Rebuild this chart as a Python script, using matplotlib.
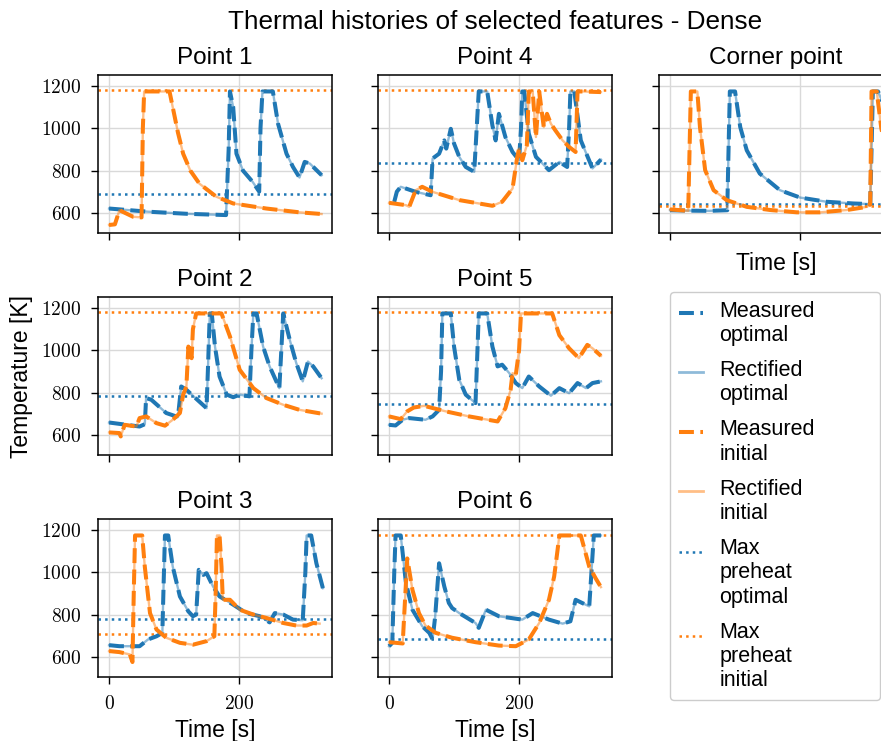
import numpy as np
import matplotlib
matplotlib.use('Agg')
import matplotlib.pyplot as plt
from matplotlib.lines import Line2D
from matplotlib.ticker import FuncFormatter

# temperature histories (time [s], temperature [K])
p1_opt_t = [0, 60, 120, 180, 184, 186, 191, 196, 206, 221, 231, 233, 236, 252, 260, 273, 283, 293, 301, 309, 327]
p1_opt_T = [620, 605, 595, 589, 900, 1175, 1100, 880, 800, 746, 700, 1000, 1175, 1175, 1022, 880, 817, 767, 841, 833, 778]
p1_init_t = [0, 9, 16, 37, 50, 52, 54, 93, 98, 106, 114, 125, 139, 165, 191, 242, 293, 327]
p1_init_T = [542, 545, 612, 581, 578, 1000, 1175, 1175, 1100, 980, 880, 800, 738, 676, 644, 620, 602, 594]

p2_opt_t = [0, 47, 55, 57, 65, 88, 106, 111, 119, 150, 152, 155, 158, 163, 170, 181, 191, 201, 216, 219, 222,
            227, 237, 247, 262, 265, 268, 278, 288, 298, 306, 314, 327]
p2_opt_T = [658, 639, 650, 774, 766, 703, 684, 829, 813, 726, 900, 1175, 1175, 1018, 876, 790, 778, 790, 782, 1000, 1175,
            1175, 1018, 924, 821, 1000, 1175, 1050, 940, 853, 947, 924, 868]
p2_init_t = [0, 16, 18, 24, 42, 47, 57, 73, 86, 98, 109, 114, 119, 122, 127, 129, 134, 173, 186, 201, 222, 242, 268, 293, 327]
p2_init_T = [611, 608, 592, 647, 639, 679, 687, 655, 643, 671, 703, 790, 829, 1018, 963, 1100, 1175, 1175, 1066, 908, 821, 774, 742, 718, 700]

p3_opt_t = [0, 16, 47, 60, 73, 82, 84, 86, 91, 98, 109, 122, 129, 134, 138, 145, 150, 160, 170, 191, 211, 232,
            247, 255, 268, 283, 298, 302, 304, 311, 319, 329]
p3_opt_T = [655, 650, 650, 682, 697, 713, 950, 1175, 1175, 1027, 886, 815, 792, 800, 1012, 988, 996, 933, 886, 847, 807, 792,
            763, 807, 800, 776, 773, 1000, 1175, 1175, 1043, 925]
p3_init_t = [0, 16, 32, 36, 38, 40, 51, 55, 63, 73, 88, 109, 129, 150, 162, 164, 166, 170, 173, 175, 186, 201,
             222, 242, 268, 288, 304, 314, 324]
p3_init_T = [627, 622, 611, 575, 900, 1175, 1175, 1027, 807, 729, 690, 666, 657, 674, 697, 900, 1175, 1175, 1027, 870, 870, 823,
             800, 784, 760, 748, 748, 760, 757]

p4_opt_t = [8, 12, 18, 41, 64, 67, 77, 85, 88, 95, 100, 108, 118, 131, 133, 138, 151, 159, 164, 169, 179, 190, 200,
            203, 205, 208, 215, 226, 246, 262, 274, 277, 279, 285, 295, 313, 326]
p4_opt_T = [652, 700, 723, 699, 683, 857, 880, 943, 904, 998, 928, 865, 817, 794, 900, 1175, 1175, 1014, 943, 1069, 959, 888, 849,
            1000, 1175, 1175, 975, 865, 802, 841, 817, 1000, 1175, 1175, 943, 810, 852]
p4_init_t = [0, 26, 31, 41, 51, 67, 108, 159, 174, 190, 197, 200, 205, 212, 215, 221, 226, 231, 238, 243, 249, 256,
             267, 277, 287, 290, 297, 326]
p4_init_T = [647, 636, 628, 707, 723, 699, 660, 633, 652, 715, 860, 904, 849, 920, 1175, 1175, 959, 1175, 1006, 1069, 1022, 990,
             943, 912, 888, 1175, 1175, 1172]

p5_opt_t = [0, 10, 21, 31, 56, 67, 77, 80, 82, 95, 100, 108, 118, 133, 136, 138, 151, 159, 167, 174, 185, 195, 205,
            215, 231, 249, 262, 277, 290, 303, 313, 326]
p5_opt_T = [647, 644, 671, 679, 671, 687, 718, 900, 1175, 1175, 1018, 861, 790, 750, 1000, 1175, 1175, 1018, 924, 932, 892, 845, 821,
            876, 829, 785, 821, 797, 845, 821, 845, 853]
p5_init_t = [0, 18, 28, 38, 54, 87, 123, 167, 179, 187, 190, 195, 200, 203, 251, 262, 277, 292, 305, 313, 326]
p5_init_T = [687, 674, 711, 729, 737, 711, 687, 663, 726, 813, 892, 884, 1000, 1175, 1175, 1072, 1010, 963, 1026, 1010, 974]

p6_opt_t = [0, 5, 8, 10, 18, 26, 36, 51, 62, 67, 71, 77, 85, 92, 97, 108, 133, 138, 149, 169, 205, 221, 246, 267,
            279, 287, 297, 308, 315, 326]
p6_opt_T = [650, 666, 1000, 1175, 1175, 949, 823, 745, 713, 682, 792, 1043, 933, 855, 831, 807, 760, 737, 823, 792, 776, 807, 776, 757,
            768, 870, 855, 839, 1175, 1175]
p6_init_t = [0, 21, 28, 36, 46, 56, 72, 97, 133, 169, 195, 215, 231, 246, 254, 259, 262, 295, 308, 318, 326]
p6_init_T = [669, 663, 1066, 917, 807, 748, 713, 690, 669, 653, 650, 682, 760, 870, 980, 1100, 1175, 1175, 1027, 971, 930]

corner_opt_t = [0, 30, 60, 88, 90, 92, 100, 108, 118, 138, 169, 200, 241, 282, 308, 310, 312, 320, 330]
corner_opt_T = [612, 610, 609, 612, 900, 1175, 1175, 1006, 896, 786, 707, 672, 652, 644, 641, 900, 1175, 1175, 1100]
corner_init_t = [0, 28, 30, 32, 42, 46, 54, 67, 87, 118, 154, 195, 231, 272, 303, 308, 310, 318, 325, 332]
corner_init_T = [616, 609, 900, 1175, 1175, 1006, 802, 707, 660, 628, 613, 602, 602, 613, 628, 640, 1175, 1175, 1000, 900]

names = ['Point 1', 'Point 2', 'Point 3', 'Point 4', 'Point 5', 'Point 6', 'Corner point']
preheat_opt = [688, 785, 781, 836, 747, 685, 641]
preheat_init = [1180, 1181, 710, 1180, 1181, 1178, 632]

legend_labels = ['Measured\noptimal', 'Rectified\noptimal', 'Measured\ninitial',
                 'Rectified\ninitial', 'Max\npreheat\noptimal', 'Max\npreheat\ninitial']

plt.rcParams['font.family'] = 'Liberation Sans'
plt.rcParams['mathtext.fontset'] = 'cm'

BLUE = '#1f77b4'
ORANGE = '#ff7f0e'
W, H = 881, 741
LW_MEAS = 2.9
LW_RECT = 1.7

fig = plt.figure(figsize=(W / 100, H / 100), dpi=100)


def add_ax(left, top, w=234, h=158):
    return fig.add_axes([left / W, 1 - (top + h) / H, w / W, h / H])


series = [
    (p1_opt_t, p1_opt_T, p1_init_t, p1_init_T),
    (p2_opt_t, p2_opt_T, p2_init_t, p2_init_T),
    (p3_opt_t, p3_opt_T, p3_init_t, p3_init_T),
    (p4_opt_t, p4_opt_T, p4_init_t, p4_init_T),
    (p5_opt_t, p5_opt_T, p5_init_t, p5_init_T),
    (p6_opt_t, p6_opt_T, p6_init_t, p6_init_T),
    (corner_opt_t, corner_opt_T, corner_init_t, corner_init_T),
]
# (left, top) in pixels of each panel
places = [(98, 75), (98, 297), (98, 519), (378, 75), (378, 297), (378, 519), (659, 75)]

tick_fmt = FuncFormatter(lambda v, p: f'${v:.0f}$')

for i, (name, (to, To, ti, Ti), (lx, ty)) in enumerate(zip(names, series, places)):
    ax = add_ax(lx, ty)
    ax.plot(to, To, color=BLUE, lw=LW_RECT, alpha=0.5, zorder=2.5)
    ax.plot(to, To, color=BLUE, lw=LW_MEAS, ls='--', zorder=3)
    ax.plot(ti, Ti, color=ORANGE, lw=LW_RECT, alpha=0.5, zorder=3.5)
    ax.plot(ti, Ti, color=ORANGE, lw=LW_MEAS, ls='--', zorder=4)
    ax.axhline(preheat_opt[i], color=BLUE, ls=':', lw=1.8, zorder=2)
    ax.axhline(preheat_init[i], color=ORANGE, ls=':', lw=1.8, zorder=2)

    ax.set_xlim(-17, 343)
    ax.set_ylim(504, 1253)
    ax.set_xticks([0, 200])
    ax.set_yticks([600, 800, 1000, 1200])
    ax.xaxis.set_major_formatter(tick_fmt)
    ax.yaxis.set_major_formatter(tick_fmt)
    ax.grid(True, color='#d9d9d9', lw=1)
    ax.set_axisbelow(True)
    ax.tick_params(direction='out', length=5, width=1, labelsize=14)
    ax.tick_params(axis='y', pad=7)
    ax.tick_params(axis='x', pad=8)
    for s in ax.spines.values():
        s.set_linewidth(1.1)
    ax.set_title(name, fontsize=17.5, pad=8)

    if lx != 98:
        ax.tick_params(labelleft=False)
    if name not in ('Point 3', 'Point 6'):
        ax.tick_params(labelbottom=False)
    if name in ('Point 3', 'Point 6'):
        ax.set_xlabel('Time [s]', fontsize=16.5, labelpad=4)
    if name == 'Corner point':
        ax.set_xlabel('Time [s]', fontsize=16.5, labelpad=9)
    if name == 'Point 2':
        ax.set_ylabel('Temperature [K]', fontsize=16.5, labelpad=6)

fig.text(495 / W, 1 - 10 / H, 'Thermal histories of selected features - Dense',
         ha='center', va='top', fontsize=18.8)

handles = [
    Line2D([], [], color=BLUE, lw=LW_MEAS, ls='--'),
    Line2D([], [], color=BLUE, lw=2, alpha=0.5),
    Line2D([], [], color=ORANGE, lw=LW_MEAS, ls='--'),
    Line2D([], [], color=ORANGE, lw=2, alpha=0.5),
    Line2D([], [], color=BLUE, lw=1.8, ls=':'),
    Line2D([], [], color=ORANGE, lw=1.8, ls=':'),
]
fs = 15.5
leg = fig.legend(handles, legend_labels, loc='upper left',
                 bbox_to_anchor=(670 / W, 1 - 697 / H, 210 / W, 405 / H), mode='expand',
                 borderaxespad=0, fontsize=fs, handlelength=1.15, handletextpad=0.75,
                 labelspacing=0.66, framealpha=1, edgecolor='0.8')
# put each handle next to the first line of its label
for line, lab in zip(leg.get_lines(), legend_labels):
    n = lab.count('\n')
    line.set_ydata(np.asarray(line.get_ydata()) + 0.5 * 1.2 * fs * n * 0.83)

fig.savefig('out.png', dpi=100)
